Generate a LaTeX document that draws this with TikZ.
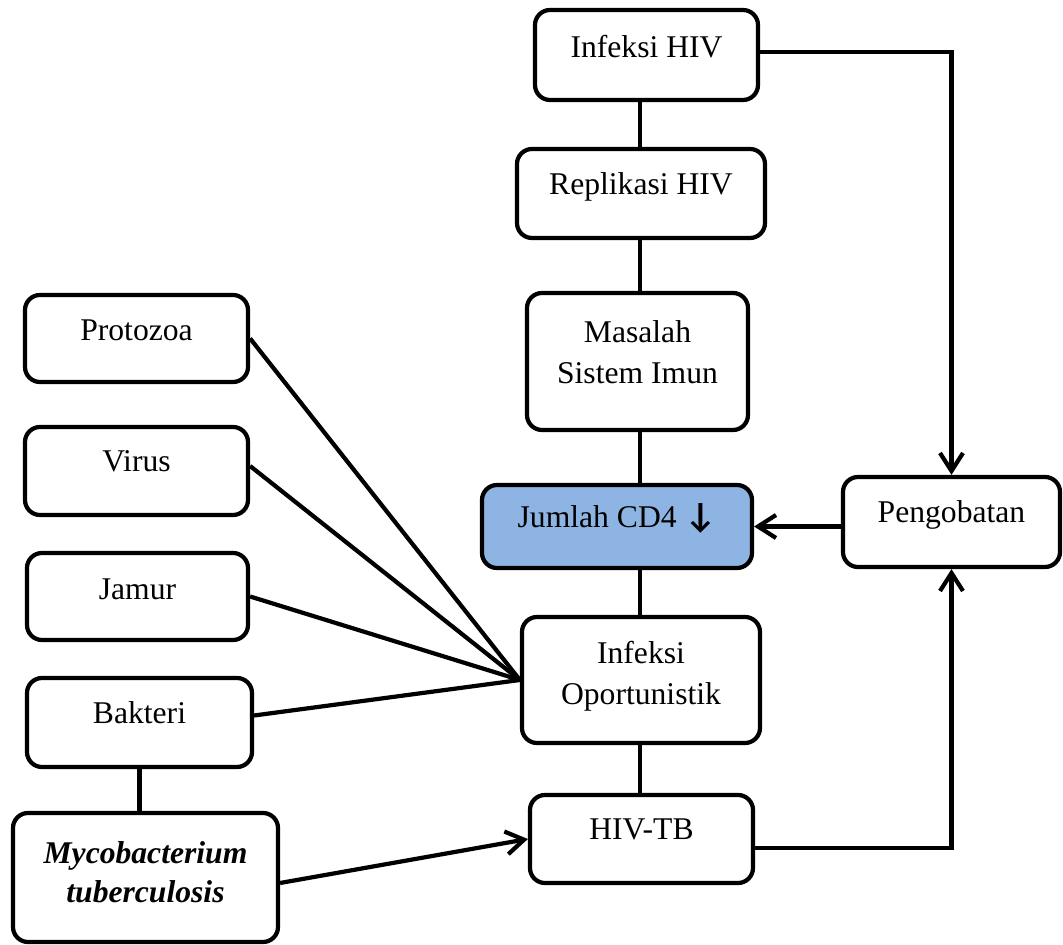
\documentclass[tikz,border=0pt]{standalone}
\usepackage{fontspec}
\setmainfont{Liberation Serif}
\newfontfamily\arrfont{Carlito}
\usetikzlibrary{arrows.meta}
\definecolor{cdblue}{RGB}{142,180,227}
\begin{document}
\begin{tikzpicture}[x=0.02cm,y=-0.02cm,
  box/.style={draw, line width=2.4pt, rounded corners=0.3cm, fill=white, inner sep=0pt},
  bx/.style 2 args={box, minimum width=#1*0.02cm, minimum height=#2*0.02cm},
  lbl/.style={font=\fontsize{18}{23.5}\selectfont, inner sep=0pt, align=center, anchor=base},
  conn/.style={line width=2.4pt},
  arr/.style={conn, -{Straight Barb[length=0.36cm,width=0.46cm]}}]
\useasboundingbox (0,0) rectangle (1063,945);
% boxes
\node[bx={223}{90}] (ihiv) at (646.5,55) {};
\node[bx={248}{89}] (repl) at (641,193.5) {};
\node[bx={221}{137}] (masalah) at (637.5,361.5) {};
\node[bx={270}{83}, fill=cdblue] (cd4) at (617,526.5) {};
\node[bx={238}{126}] (infop) at (641,680) {};
\node[bx={223}{88}] (hivtb) at (641.5,839) {};
\node[bx={217}{90}] (peng) at (951.5,522) {};
\node[bx={223}{87}] (proto) at (136.5,338.5) {};
\node[bx={223}{88}] (virus) at (136.5,471) {};
\node[bx={221}{87}] (jamur) at (137.5,596.5) {};
\node[bx={225}{89}] (bakteri) at (139.5,722.5) {};
\node[bx={265}{129}] (myco) at (145.5,877.5) {};
% texts (anchor base = baseline of last line)
\node[lbl] (ihivT) at (646.5,58) {Infeksi HIV};
\node[lbl] (replT) at (641,195) {Replikasi HIV};
\node[lbl] (masalahT) at (637.5,384) {Masalah\\Sistem Imun};
\node[lbl] (cd4T) at (617,528) {Jumlah CD4 {\arrfont\bfseries\fontsize{20}{24}\selectfont ↓}};
\node[lbl] (infopT) at (641,705) {Infeksi\\Oportunistik};
\node[lbl] (hivtbT) at (641.5,840) {HIV-TB};
\node[lbl] (pengT) at (951.5,523) {Pengobatan};
\node[lbl] (protoT) at (136.5,341) {Protozoa};
\node[lbl] (virusT) at (136.5,472) {Virus};
\node[lbl] (jamurT) at (137.5,600) {Jamur};
\node[lbl] (bakteriT) at (139.5,724) {Bakteri};
\node[lbl, font=\fontsize{18}{22.7}\selectfont\bfseries\itshape] (mycoT) at (145.5,903) {Mycobacterium\\tuberculosis};
% connectors
\coordinate (col) at (640,0);
\draw[conn] (ihiv.south -| col) -- (repl.north -| col);
\draw[conn] (repl.south -| col) -- (masalah.north -| col);
\draw[conn] (masalah.south -| col) -- (cd4.north -| col);
\draw[conn] (cd4.south -| col) -- (infop.north -| col);
\draw[conn] (infop.south -| col) -- (hivtb.north -| col);
\draw[conn] (proto.east) -- (infop.west);
\draw[conn] ([yshift=0.1cm]virus.east) -- (infop.west);
\draw[conn] (jamur.east) -- (infop.west);
\draw[conn] ([yshift=0.14cm]bakteri.east) -- (infop.west);
\draw[conn] (bakteri.south) -- (bakteri.south |- myco.north);
\draw[arr] ([yshift=-0.11cm]myco.east) -- (hivtb.west);
\draw[arr] ([yshift=0.06cm]ihiv.east) -| (peng.north);
\draw[arr] (peng.west |- cd4.east) -- (cd4.east);
\draw[arr] ([yshift=-0.18cm]hivtb.east) -| (peng.south);
\end{tikzpicture}
\end{document}
